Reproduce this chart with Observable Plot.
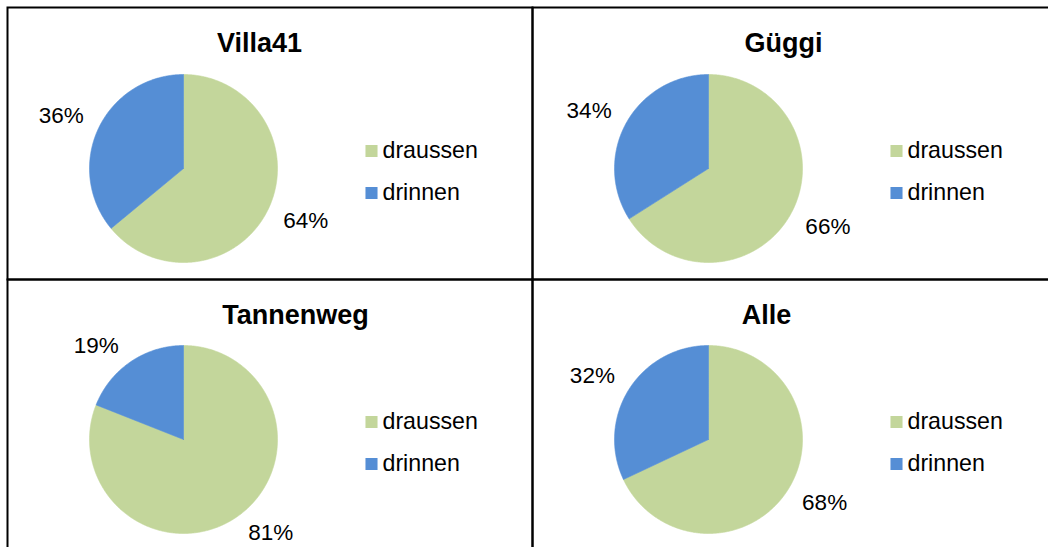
<!DOCTYPE html>
<html><head><meta charset="utf-8">
<script src="https://cdn.jsdelivr.net/npm/d3@7"></script>
<script src="https://cdn.jsdelivr.net/npm/@observablehq/plot@0.6"></script>
<style>html,body{margin:0;padding:0;background:#fff;overflow:hidden;width:1048px;height:547px}
#chart svg{max-width:none !important;display:block}</style>
</head><body><div id="chart"></div>
<script>
// ---- data ----
const charts = ["Villa41", "Güggi", "Tannenweg", "Alle"];
const categories = ["draussen", "drinnen"];
const draussen = [64, 66, 81, 68];
const drinnen = [36, 34, 19, 32];
const colors = ["#C3D69B", "#558ED5"];

// ---- layout (cell-local pixel units) ----
const CELL_W = 525, CELL_H = 272;
const R = 94, CX = 176;
const CY = [161, 161, 160, 160];
const TITLE_X = [252, 251, 288, 234];
const TITLE_Y = 44;
const FONT = "Liberation Sans, Arial, Helvetica, sans-serif";

const slices = [], labels = [], titles = [], legend = [];
charts.forEach((name, i) => {
  const col = i % 2, row = Math.floor(i / 2);
  const vals = [draussen[i], drinnen[i]];
  const total = d3.sum(vals);
  let acc = 0;
  vals.forEach((v, k) => {
    const a0 = acc / total * 2 * Math.PI;
    acc += v;
    const a1 = acc / total * 2 * Math.PI;
    const n = Math.max(2, Math.ceil((a1 - a0) / (Math.PI / 360)));
    const key = categories[k];
    slices.push({chart: name, key, col, row, x: CX, y: CY[i]});
    for (let j = 0; j <= n; j++) {
      const a = a0 + (a1 - a0) * j / n;
      slices.push({chart: name, key, col, row, x: CX + R * Math.sin(a), y: CY[i] - R * Math.cos(a)});
    }
    slices.push({chart: name, key, col, row, x: CX, y: CY[i]});
    const m = (a0 + a1) / 2, s = Math.sin(m), c = Math.cos(m);
    labels.push({col, row, text: `${v}%`,
      x: CX + (R + 8) * s + 30 * Math.sign(s),
      y: CY[i] - (R + 8) * c + 9 * Math.sign(-c)});
  });
  titles.push({col, row, text: name, x: TITLE_X[i], y: TITLE_Y});
  categories.forEach((key, k) => legend.push({col, row, key, x: 364, y: CY[i] - 17.5 + k * 42}));
});

const plot = Plot.plot({
  width: 1057, height: 551,
  marginLeft: 7, marginTop: 7, marginRight: 0, marginBottom: 0,
  style: {fontFamily: FONT, background: "#fff", color: "#000", maxWidth: "none"},
  fx: {domain: [0, 1], padding: 0, axis: null},
  fy: {domain: [0, 1], padding: 0, axis: null},
  x: {domain: [0, CELL_W], axis: null},
  y: {domain: [0, CELL_H], reverse: true, axis: null},
  color: {domain: categories, range: colors},
  marks: [
    Plot.line(slices, {x: "x", y: "y", fx: "col", fy: "row", z: d => d.chart + d.key, fill: "key", stroke: "key", strokeWidth: 0.6, curve: "linear"}),
    Plot.text(labels, {x: "x", y: "y", fx: "col", fy: "row", text: "text", fontSize: 22.5, fill: "#000", textAnchor: "middle", lineAnchor: "middle"}),
    Plot.text(titles, {x: "x", y: "y", fx: "col", fy: "row", text: "text", fontSize: 27, fontWeight: "bold", fill: "#000", textAnchor: "middle", lineAnchor: "bottom"}),
    Plot.dot(legend, {x: "x", y: "y", fx: "col", fy: "row", symbol: "square", r: 6.8, fill: "key", stroke: null}),
    Plot.text(legend, {x: d => d.x + 11, y: "y", fx: "col", fy: "row", text: "key", fontSize: 23.2, fill: "#000", textAnchor: "start", lineAnchor: "middle"}),
    Plot.frame({stroke: "#000", strokeWidth: 2})
  ]
});
document.getElementById("chart").appendChild(plot);
</script>
</body></html>
